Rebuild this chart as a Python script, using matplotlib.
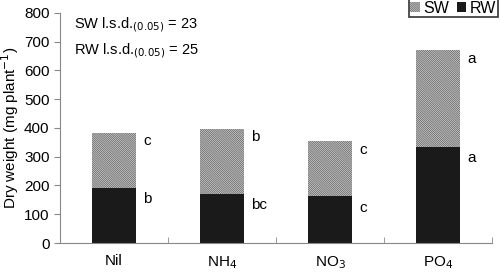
import numpy as np
import matplotlib.pyplot as plt
from matplotlib.patches import Patch

plt.rcParams['font.family'] = ['Liberation Sans', 'DejaVu Sans']
plt.rcParams['hatch.linewidth'] = 0.6

treatments = ['Nil', 'NH$_4$', 'NO$_3$', 'PO$_4$']
rw = [192, 172, 163, 335]
sw = [192, 226, 192, 335]
rw_letters = ['b', 'bc', 'c', 'a']
sw_letters = ['c', 'b', 'c', 'a']

HATCH = '\\' * 16

fig = plt.figure(figsize=(5, 2.74), dpi=100)
ax = fig.add_axes([0.12, 0.113, 0.864, 0.84])

x = np.arange(len(treatments))
w = 0.4
ax.bar(x, rw, w, color='#1a1a1a', edgecolor='#1a1a1a', linewidth=0)
ax.bar(x, sw, w, bottom=rw, color='#e0e0e0', edgecolor='#666666',
       hatch=HATCH, linewidth=0)

tot = np.array(rw) + np.array(sw)
for i in range(len(x)):
    ax.text(x[i] + w / 2 + 0.07, tot[i] - 30, sw_letters[i], fontsize=11, va='center')
    ax.text(x[i] + w / 2 + 0.07, rw[i] - 40, rw_letters[i], fontsize=11, va='center')

ax.text(-0.37, 760, 'SW l.s.d.$_{(0.05)}$ = 23', fontsize=10.5, va='center')
ax.text(-0.37, 668, 'RW l.s.d.$_{(0.05)}$ = 25', fontsize=10.5, va='center')

ax.set_xlim(-0.5, 3.5)
ax.set_ylim(0, 800)
ax.set_yticks(range(0, 801, 100))
ax.set_xticks(x)
ax.set_xticklabels(treatments, fontsize=11)
ax.set_xticks(np.arange(-0.5, 3.6, 1), minor=True)
ax.tick_params(axis='x', which='major', length=0, pad=8)
ax.tick_params(axis='x', which='minor', length=4, color='#888888', direction='in')
ax.tick_params(axis='y', labelsize=11, color='#888888', length=4)
ax.set_ylabel('Dry weight (mg plant$^{-1}$)', fontsize=11, labelpad=2)

for s in ['top', 'right']:
    ax.spines[s].set_visible(False)
for s in ['left', 'bottom']:
    ax.spines[s].set_color('#888888')

handles = [Patch(facecolor='#e0e0e0', edgecolor='#666666', hatch=HATCH, linewidth=0, label='SW'),
           Patch(facecolor='#1a1a1a', label='RW')]
leg = ax.legend(handles=handles, loc='upper right', bbox_to_anchor=(1.013, 1.06), ncol=2,
                fontsize=11.5, frameon=True, fancybox=False, handlelength=0.6, handleheight=0.6,
                handletextpad=0.2, columnspacing=0.5, borderpad=0.1, borderaxespad=0)
leg.get_frame().set_edgecolor('black')
leg.get_frame().set_linewidth(1.2)

fig.savefig('out.png', dpi=100)
